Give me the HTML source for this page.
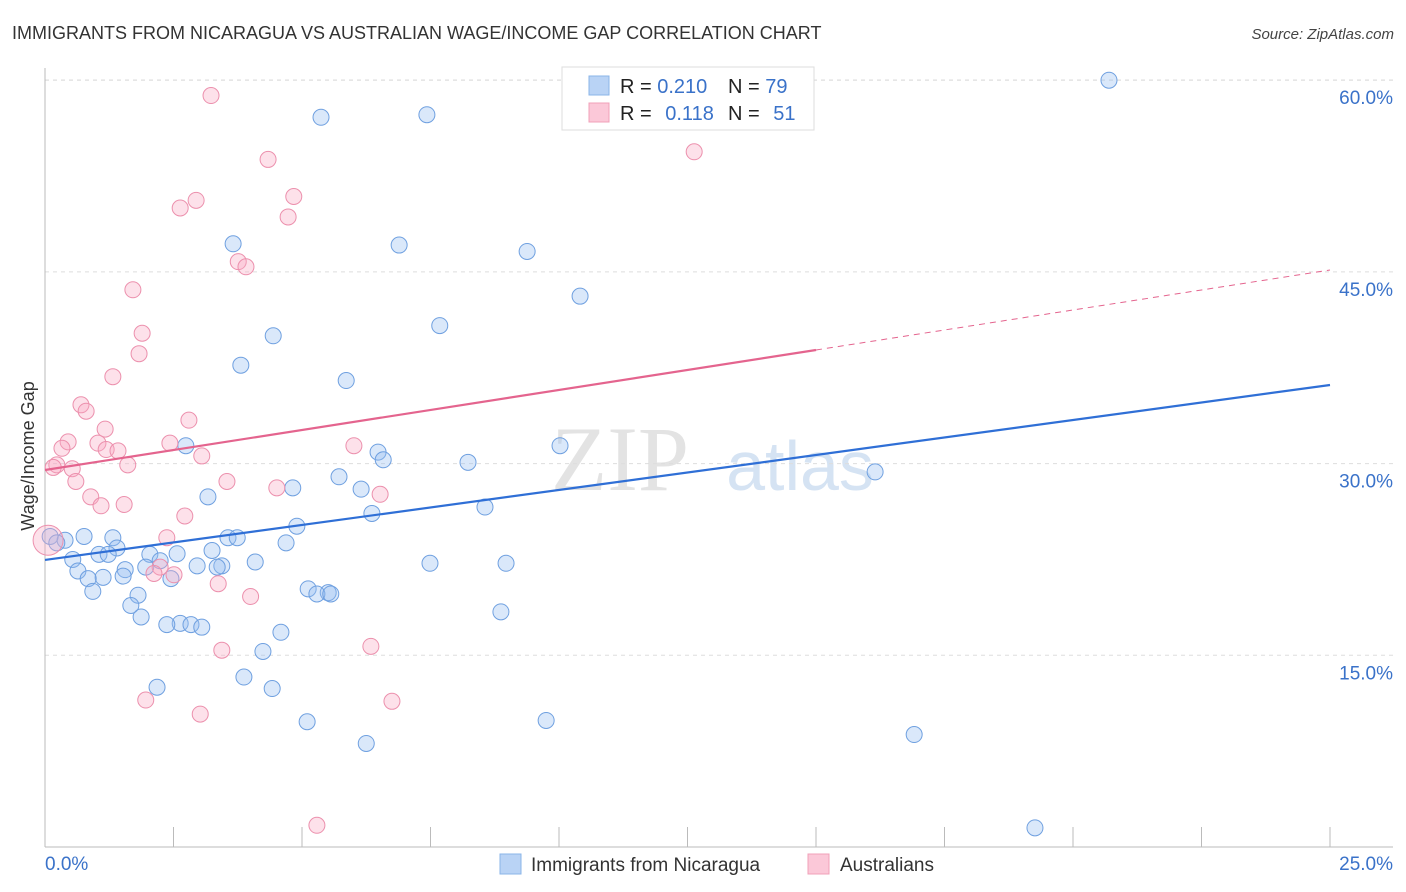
<!DOCTYPE html>
<html><head><meta charset="utf-8"><style>
body{margin:0;background:#fff;font-family:"Liberation Sans",sans-serif;}
#wrap{position:relative;width:1406px;height:892px;overflow:hidden;}
</style></head><body>
<div id="wrap">
<svg id="svg" width="1406" height="892" xmlns="http://www.w3.org/2000/svg">
<text x="12" y="39" font-size="18" fill="#333">IMMIGRANTS FROM NICARAGUA VS AUSTRALIAN WAGE/INCOME GAP CORRELATION CHART</text>
<text x="1394" y="39" font-size="15" fill="#444" font-style="italic" text-anchor="end">Source: ZipAtlas.com</text>
<text x="620" y="490" font-size="92" fill="#e3e3e3" font-family="Liberation Serif" text-anchor="middle">ZIP</text>
<text x="800" y="490" font-size="70" fill="#d5e3f3" text-anchor="middle">atlas</text>
<text transform="translate(34,456) rotate(-90)" font-size="18" fill="#333" text-anchor="middle">Wage/Income Gap</text>
<g id="grid"></g><g id="axes"></g><g id="pts"></g><g id="lines"></g>
<g>
<rect x="562" y="67" width="252" height="63" fill="#fff" stroke="#ddd"/>
<rect x="589" y="76" width="20" height="19" fill="#b9d3f5" stroke="#8ab4e8"/>
<rect x="589" y="103" width="20" height="19" fill="#fbc8d8" stroke="#f0a0b8"/>
<text x="620" y="93" font-size="20" fill="#222">R = <tspan fill="#3a72c9">0.210</tspan></text>
<text x="728" y="93" font-size="20" fill="#222">N = <tspan fill="#3a72c9">79</tspan></text>
<text x="620" y="120" font-size="20" fill="#222">R = <tspan fill="#3a72c9" dx="8">0.118</tspan></text>
<text x="728" y="120" font-size="20" fill="#222">N = <tspan fill="#3a72c9" dx="8">51</tspan></text>
</g>
<g>
<rect x="500" y="854" width="21" height="20" fill="#b9d3f5" stroke="#8ab4e8"/>
<text x="531" y="871" font-size="19" fill="#333">Immigrants from Nicaragua</text>
<rect x="808" y="854" width="21" height="20" fill="#fbc8d8" stroke="#f0a0b8"/>
<text x="840" y="871" font-size="19" fill="#333">Australians</text>
</g>
</svg>
</div>
<script>
const xTicks=[0,2.5,5,7.5,10,12.5,15,17.5,20,22.5,25];
const yTicks=[15,30,45,60];
const yTickLabels=["15.0%","30.0%","45.0%","60.0%"];
const xEndLabels=["0.0%","25.0%"];
const blueX=[20.7,5.37,7.43,3.66,6.89,9.38,10.41,7.68,4.44,3.81,5.86,10.02,6.48,6.58,2.74,8.23,16.15,5.72,4.82,6.15,3.17,8.56,6.36,4.9,4.69,3.56,3.74,0.76,1.32,0.39,0.1,0.23,1.4,3.25,2.57,1.05,1.23,2.04,2.24,0.54,4.09,7.49,8.97,2.96,3.44,1.96,3.35,1.56,0.64,1.13,0.84,1.52,2.45,5.12,5.51,5.29,5.56,1.81,0.93,1.67,8.87,1.87,2.63,2.37,2.84,3.05,4.59,4.24,3.87,2.18,4.42,5.1,9.75,16.91,6.25,19.26];
const blueY=[60.0,57.1,57.3,47.2,47.1,46.6,43.1,40.8,40.0,37.7,36.5,31.4,30.9,30.3,31.4,30.1,29.35,28.97,28.1,28.0,27.4,26.6,26.1,25.1,23.8,24.2,24.2,24.3,24.2,24.0,24.3,23.8,23.4,23.2,22.95,22.9,22.9,22.9,22.4,22.5,22.3,22.2,22.2,22.0,22.0,21.9,21.9,21.7,21.6,21.1,21.0,21.2,21.0,20.2,19.9,19.8,19.8,19.7,20.0,18.9,18.4,18.0,17.5,17.4,17.4,17.2,16.8,15.3,13.3,12.5,12.4,9.8,9.9,8.8,8.1,1.5];
const pinkX=[3.23,12.63,4.34,4.84,2.94,2.63,4.73,3.76,3.91,1.71,1.89,1.83,1.32,0.7,0.8,2.8,1.17,0.45,1.03,2.43,1.19,0.33,1.42,6.01,3.05,0.23,0.16,0.53,1.61,0.6,3.54,4.51,6.52,0.89,1.09,1.54,2.72,2.37,2.24,2.12,2.51,3.37,4.0,3.44,6.34,1.96,3.02,6.75,5.29,0.06];
const pinkY=[58.8,54.4,53.8,50.9,50.6,50.0,49.3,45.8,45.4,43.6,40.2,38.6,36.8,34.6,34.1,33.4,32.7,31.7,31.6,31.6,31.1,31.2,31.0,31.4,30.6,29.9,29.7,29.6,29.9,28.6,28.6,28.1,27.6,27.4,26.7,26.8,25.9,24.2,21.9,21.4,21.3,20.6,19.6,15.4,15.7,11.5,10.4,11.4,1.7,24.0];
const blueLine=[22.46,36.15];
const pinkLine=[29.5,45.15];
const pinkSolidEnd=15;
const X=v=>45+v*51.4, Y=v=>847-v*12.78;
const NS="http://www.w3.org/2000/svg";
function mk(t,a,p){const e=document.createElementNS(NS,t);for(const k in a)e.setAttribute(k,a[k]);document.getElementById(p).appendChild(e);return e;}
yTicks.forEach((t,i)=>{
 const g=mk('line',{x1:45,x2:1393,y1:Y(t),y2:Y(t),stroke:'#ddd','stroke-dasharray':'4,4'},'grid');
 
 
 const l=mk('text',{x:1393,y:Y(t)+24,'font-size':19,fill:'#3a72c9','text-anchor':'end'},'axes');
 l.textContent=yTickLabels[i];
 
 
});
const tg=mk('line',{x1:45,x2:1393,y1:80,y2:80,stroke:'#ddd','stroke-dasharray':'4,4'},'grid');
const ax=mk('line',{x1:45,x2:45,y1:68,y2:847,stroke:'#bbb'},'axes');


const bx=mk('line',{x1:45,x2:1393,y1:847,y2:847,stroke:'#bbb'},'axes');


xTicks.forEach(t=>{
 const e=mk('line',{x1:X(t),x2:X(t),y1:827,y2:847,stroke:'#bbb'},'axes');
 
 
});
[[0,45,'start'],[25,1393,'end']].forEach((d,i)=>{
 const e=mk('text',{x:d[1],y:870,'font-size':19,fill:'#3a72c9','text-anchor':d[2]},'axes');
 e.textContent=xEndLabels[i];
 
 
});
blueX.forEach((x,i)=>{
 const c=mk('circle',{cx:X(x),cy:Y(blueY[i]),r:8,fill:'rgba(150,190,240,0.35)',stroke:'#6fa0e0','stroke-width':1},'pts');
 
 
});
pinkX.forEach((x,i)=>{
 const c=mk('circle',{cx:X(x),cy:Y(pinkY[i]),r:i==pinkX.length-1?15:8,fill:'rgba(248,170,195,0.35)',stroke:'#ec90ad','stroke-width':1},'pts');
 
 
});
const bl=mk('line',{x1:X(0),y1:Y(blueLine[0]),x2:X(25),y2:Y(blueLine[1]),stroke:'#2f6fd6','stroke-width':2.2},'lines');


const pm=pinkLine[0]+(pinkLine[1]-pinkLine[0])*pinkSolidEnd/25;
const pl=mk('line',{x1:X(0),y1:Y(pinkLine[0]),x2:X(pinkSolidEnd),y2:Y(pm),stroke:'#e4648e','stroke-width':2.2},'lines');


const pd=mk('line',{x1:X(pinkSolidEnd),y1:Y(pm),x2:X(25),y2:Y(pinkLine[1]),stroke:'#e4648e','stroke-width':1,'stroke-dasharray':'6,5'},'lines');


</script>
</body></html>
